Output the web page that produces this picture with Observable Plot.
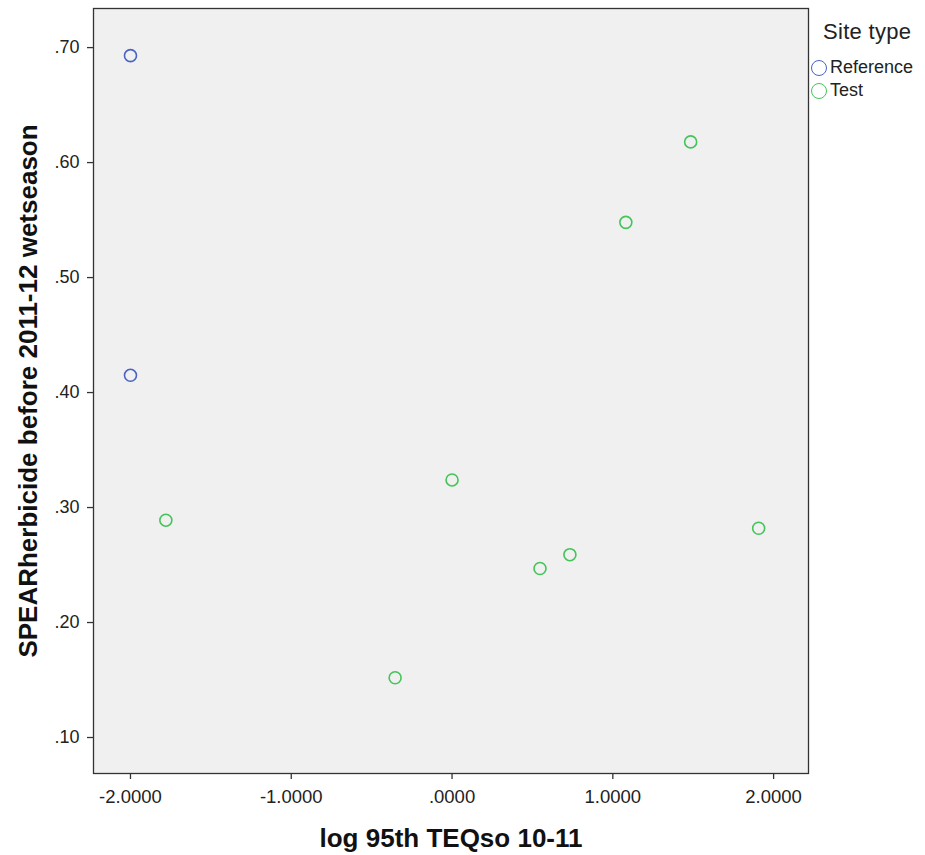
<!DOCTYPE html>
<html>
<head>
<meta charset="utf-8">
<script src="https://cdn.jsdelivr.net/npm/d3@7"></script>
<script src="https://cdn.jsdelivr.net/npm/@observablehq/plot@0.6"></script>
<style>
  body { margin: 0; background: #fff; font-family: "Liberation Sans", Arial, sans-serif; }
  #wrap { position: relative; width: 925px; height: 855px; }
  #legend { position: absolute; left: 811px; top: 19px; color: #222; white-space: nowrap; }
  #legend .title { font-size: 22px; line-height: 26px; margin-left: 12px; margin-bottom: 11px; letter-spacing: 0.3px; }
  #legend .item { display: flex; align-items: center; font-size: 18px; height: 23px; }
  #legend .sw { width: 16px; height: 16px; border-radius: 50%; border: 1.7px solid; margin-right: 3px; box-sizing: border-box; }
</style>
</head>
<body>
<div id="wrap"><div id="chart"></div>
<div id="legend"></div></div>
<script>
const siteTypes = ["Reference", "Test"];
const colors = ["#4a63c2", "#45c45a"];
const site = ["Reference","Reference","Test","Test","Test","Test","Test","Test","Test","Test"];
const xVals = [-2.0, -2.0, -1.78, -0.354, 0.0, 0.547, 0.733, 1.081, 1.484, 1.907];
const yVals = [0.693, 0.415, 0.289, 0.152, 0.324, 0.247, 0.259, 0.548, 0.618, 0.282];
const xTicks = [-2, -1, 0, 1, 2];
const yTicks = [0.1, 0.2, 0.3, 0.4, 0.5, 0.6, 0.7];
const xTitle = "log 95th TEQso 10-11";
const yTitle = "SPEARherbicide before 2011-12 wetseason";

const data = xVals.map((x, i) => ({x, y: yVals[i], site: site[i]}));

const fmtX = d => { let s = d.toFixed(4); return s.replace(/^(-?)0\./, "$1."); };
const fmtY = d => d.toFixed(2).replace(/^0\./, ".");

const chart = Plot.plot({
  width: 925, height: 855,
  marginLeft: 93, marginRight: 117, marginTop: 8, marginBottom: 82,
  style: { fontFamily: "'Liberation Sans', Arial, sans-serif", color: "#222", background: "#fff" },
  x: { domain: [-2.23, 2.217] },
  y: { domain: [0.0687, 0.734] },
  color: { domain: siteTypes, range: colors },
  marks: [
    Plot.frame({ fill: "#f0f0f0", stroke: "#333", strokeWidth: 1.3 }),
    Plot.axisX({ ticks: xTicks, tickFormat: fmtX, tickSize: 6, tickPadding: 10, fontSize: 18.5, label: null, stroke: "#333", strokeWidth: 1.3 }),
    Plot.axisY({ ticks: yTicks, tickFormat: fmtY, tickSize: 6, tickPadding: 8, fontSize: 18, label: null, stroke: "#333", strokeWidth: 1.3 }),
    Plot.dot(data, { x: "x", y: "y", stroke: "site", r: 6, strokeWidth: 1.6 }),
    Plot.text([xTitle], { frameAnchor: "bottom", dy: 65, text: d => d, fontSize: 26, fontWeight: "bold", textAnchor: "middle", lineAnchor: "middle", fill: "#111" }),
    Plot.text([yTitle], { frameAnchor: "left", dx: -65, text: d => d, rotate: -90, fontSize: 26, fontWeight: "bold", textAnchor: "middle", lineAnchor: "middle", fill: "#111" })
  ]
});
document.getElementById("chart").appendChild(chart);

const leg = document.getElementById("legend");
leg.innerHTML = `<div class="title">Site type</div>` + siteTypes.map((s, i) =>
  `<div class="item"><span class="sw" style="border-color:${colors[i]}"></span>${s}</div>`).join("");
</script>
</body>
</html>
